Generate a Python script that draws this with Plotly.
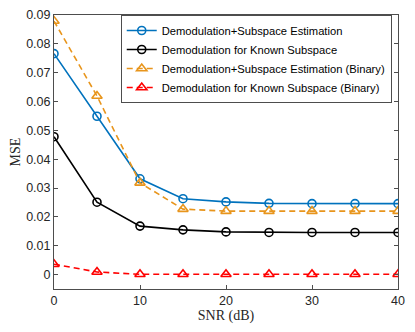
import plotly.graph_objects as go

snr = [0, 5, 10, 15, 20, 25, 30, 35, 40]

mse_sub_est = [0.0766, 0.0549, 0.0332, 0.0263, 0.0252, 0.0247, 0.0246, 0.0246, 0.0246]
mse_known = [0.0478, 0.0251, 0.0168, 0.0155, 0.0148, 0.0146, 0.0146, 0.0146, 0.0146]
mse_sub_est_bin = [0.0879, 0.0619, 0.0318, 0.0227, 0.0220, 0.0220, 0.0220, 0.0220, 0.0220]
mse_known_bin = [0.0036, 0.0009, 0.0001, 0.0001, 0.0001, 0.0001, 0.0001, 0.0001, 0.0001]

names = [
    "Demodulation+Subspace Estimation",
    "Demodulation for Known Subspace",
    "Demodulation+Subspace Estimation (Binary)",
    "Demodulation for Known Subspace (Binary)",
]

fig = go.Figure()

# solid lines with open circles
fig.add_trace(go.Scatter(x=snr, y=mse_sub_est, name=names[0], mode="lines+markers",
                         line=dict(color="#0072BD", width=1.6),
                         marker=dict(symbol="circle-open", size=8, line=dict(width=1.6))))
fig.add_trace(go.Scatter(x=snr, y=mse_known, name=names[1], mode="lines+markers",
                         line=dict(color="#000000", width=1.6),
                         marker=dict(symbol="circle-open", size=8, line=dict(width=1.6))))
# dashed lines with open triangles
fig.add_trace(go.Scatter(x=snr, y=mse_sub_est_bin, name=names[2], mode="lines+markers",
                         line=dict(color="#E8951C", width=1.6, dash="6px,4px"),
                         marker=dict(symbol="triangle-up-open", size=9, line=dict(width=1.6))))
fig.add_trace(go.Scatter(x=snr, y=mse_known_bin, name=names[3], mode="lines+markers",
                         line=dict(color="#FF0000", width=1.6, dash="6px,4px"),
                         marker=dict(symbol="triangle-up-open", size=9, line=dict(width=1.6))))

axis_style = dict(showline=True, mirror="ticks", linecolor="#4d4d4d", linewidth=1,
                  ticks="inside", ticklen=4, tickcolor="#4d4d4d", showgrid=False,
                  zeroline=False, automargin=False,
                  tickfont=dict(family="Liberation Sans", size=12.5, color="#262626"))

fig.update_xaxes(range=[0, 40], tickvals=[0, 10, 20, 30, 40],
                 title=dict(text="SNR (dB)", standoff=7,
                            font=dict(family="Liberation Serif", size=14, color="#262626")),
                 **axis_style)
fig.update_yaxes(range=[-0.005, 0.09],
                 tickvals=[0, 0.01, 0.02, 0.03, 0.04, 0.05, 0.06, 0.07, 0.08, 0.09],
                 ticktext=["0", "0.01", "0.02", "0.03", "0.04", "0.05", "0.06", "0.07", "0.08", "0.09"],
                 title=dict(text="MSE", standoff=19,
                            font=dict(family="Liberation Serif", size=14, color="#262626")),
                 **axis_style)

# the page body keeps its 8px margin, so the figure is 16px smaller than the window
fig.update_layout(
    width=399, height=316,
    margin=dict(l=46, r=9, t=7, b=35),
    plot_bgcolor="white", paper_bgcolor="white",
    legend=dict(x=0.194, y=1.0, xanchor="left", yanchor="top",
                bgcolor="white", bordercolor="#4d4d4d", borderwidth=1,
                font=dict(family="Liberation Sans", size=11.2, color="#000000"),
                tracegroupgap=0, itemwidth=30),
)

fig.write_html("out.html")
